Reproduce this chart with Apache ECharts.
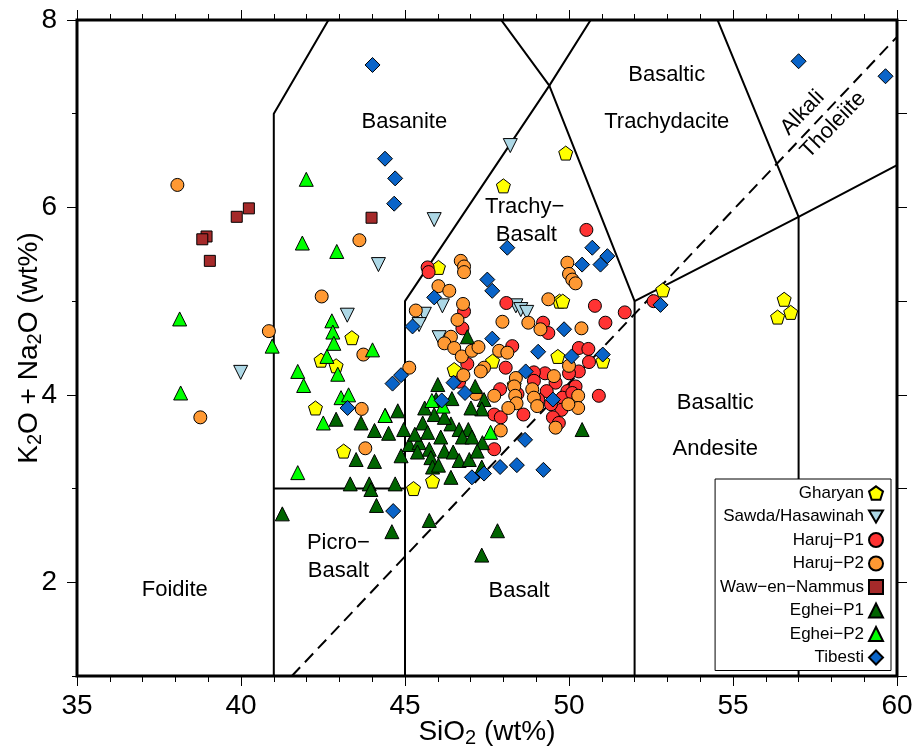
<!DOCTYPE html>
<html>
<head>
<meta charset="utf-8">
<script src="https://cdn.jsdelivr.net/npm/echarts@6/dist/echarts.min.js"></script>
<style>
  html, body { margin: 0; padding: 0; background: #fff; }
  #chart { width: 916px; height: 755px; }
</style>
</head>
<body>
<div id="chart"></div>
<script>
// axis ticks
const yLabelValues = [2, 4, 6, 8];
const yMinorValues = [1, 3, 5, 7];

// sample groups, [SiO2, K2O + Na2O]
const gharyan = [[49.90,6.58],[48.00,6.23],[46.02,5.36],[49.71,5.00],[49.81,5.00],[43.38,4.61],[42.44,4.37],[42.90,4.31],[42.27,3.86],[43.13,3.40],[46.50,4.27],[47.67,4.36],[48.33,4.11],[49.66,4.41],[51.03,4.36],[45.84,3.08],[45.26,3.00],[52.86,5.12],[56.56,5.02],[56.76,4.88],[56.36,4.83]];
const sawda = [[48.21,6.66],[45.89,5.87],[44.19,5.39],[43.24,4.85],[39.99,4.24],[46.14,4.95],[45.59,4.86],[45.43,4.75],[46.04,4.61],[48.38,4.95],[48.53,4.91],[48.71,4.88]];
const harujP1 = [[50.53,5.76],[45.69,5.36],[45.72,5.31],[46.80,4.89],[48.09,4.98],[50.79,4.95],[51.70,4.88],[49.21,4.77],[51.11,4.77],[46.75,4.71],[52.58,5.00],[50.91,3.99],[49.37,4.66],[46.90,4.33],[48.27,4.52],[48.07,4.29],[50.30,4.50],[50.59,4.49],[50.61,4.35],[50.30,4.25],[50.00,4.23],[49.27,4.23],[48.93,4.24],[48.93,4.15],[49.59,4.13],[49.32,4.04],[49.95,4.04],[50.20,4.09],[46.65,4.14],[47.90,4.06],[48.43,4.01],[49.06,3.95],[49.80,3.97],[49.77,3.84],[49.51,3.76],[49.69,3.70],[47.72,3.79],[47.92,3.76],[48.61,3.79],[47.72,3.42],[50.10,4.02],[49.45,3.90]];
const harujP2 = [[38.06,6.24],[40.85,4.68],[38.76,3.76],[43.61,5.65],[42.46,5.05],[43.73,4.43],[43.68,3.85],[43.79,3.43],[45.13,4.29],[45.33,4.90],[46.70,5.43],[46.80,5.37],[46.80,5.31],[46.02,5.16],[46.35,5.11],[49.95,5.41],[50.00,5.29],[50.10,5.23],[50.20,5.19],[49.37,5.02],[46.77,4.97],[47.97,4.78],[48.76,4.77],[50.38,4.71],[46.60,4.80],[49.13,4.70],[46.40,4.62],[46.20,4.55],[46.50,4.50],[46.73,4.41],[47.04,4.47],[47.24,4.51],[47.87,4.47],[48.12,4.45],[47.41,4.29],[47.31,4.25],[46.78,4.21],[47.16,4.01],[47.72,3.99],[48.38,4.18],[48.33,4.09],[48.36,3.99],[48.40,3.91],[48.88,4.06],[48.93,3.97],[49.03,3.88],[49.54,4.20],[50.00,4.31],[50.28,3.99],[50.28,3.86],[49.98,3.90],[49.59,3.65],[47.92,3.62],[48.15,3.86]];
const wawEnNammus = [[40.24,5.99],[39.87,5.90],[38.95,5.69],[38.82,5.66],[39.05,5.43],[43.98,5.89]];
const egheiP1 = [[46.00,4.11],[46.90,4.62],[47.14,4.09],[47.41,3.95],[47.34,3.85],[47.01,3.86],[46.43,3.96],[44.78,3.83],[44.40,3.78],[43.66,3.70],[42.90,3.74],[44.07,3.62],[44.50,3.59],[44.96,3.63],[45.54,3.70],[45.89,3.79],[46.40,3.69],[46.65,3.63],[46.93,3.63],[45.69,3.60],[45.13,3.47],[45.43,3.49],[46.09,3.55],[46.75,3.55],[47.04,3.55],[47.36,3.49],[44.88,3.35],[45.38,3.39],[45.74,3.42],[46.20,3.40],[46.47,3.39],[46.65,3.30],[46.96,3.31],[45.79,3.33],[45.84,3.23],[46.40,3.12],[44.07,3.29],[43.51,3.31],[43.33,3.05],[43.91,3.05],[44.70,3.05],[43.96,2.99],[44.13,2.82],[47.34,3.23],[50.40,3.63],[41.26,2.73],[44.60,2.54],[45.74,2.66],[47.82,2.55],[47.34,2.29],[45.95,3.95],[45.60,3.86],[46.20,3.76],[45.30,3.58],[46.02,3.25],[47.20,3.40]];
const egheiP2 = [[41.99,6.30],[41.87,5.62],[42.92,5.53],[38.13,4.81],[38.16,4.02],[40.95,4.52],[41.73,4.25],[41.91,4.10],[41.73,3.17],[42.77,4.79],[42.80,4.67],[42.83,4.55],[44.01,4.48],[42.62,4.41],[42.95,4.22],[43.05,3.97],[43.28,4.00],[42.51,3.70],[44.39,3.78],[45.82,3.94],[46.16,3.88],[47.61,3.60]];
const tibesti = [[44.01,7.52],[57.00,7.56],[59.65,7.40],[44.39,6.52],[44.70,6.31],[44.67,6.04],[48.12,5.57],[50.71,5.57],[50.40,5.39],[50.96,5.39],[51.17,5.48],[47.51,5.23],[47.66,5.11],[45.89,5.04],[45.23,4.73],[52.79,4.96],[51.03,4.43],[47.66,4.60],[49.06,4.46],[49.85,4.70],[50.08,4.41],[44.88,4.21],[44.62,4.12],[46.48,4.13],[46.83,4.02],[46.12,3.94],[48.68,4.25],[49.51,3.95],[43.25,3.86],[48.66,3.52],[47.90,3.23],[48.41,3.25],[49.22,3.20],[47.41,3.16],[47.04,3.12],[44.64,2.76]];

// TAS field boundaries (Le Bas et al. 1986) and alkaline/tholeiitic divide
const tasBoundaries = [
  [[41,1],[41,7],[45,9.4]],
  [[41,3],[45,3]],
  [[45,1],[45,5],[49.4,7.3],[53,9.3]],
  [[45,9.4],[49.4,7.3],[52,5]],
  [[52,1],[52,5],[57,5.9],[63,7]],
  [[57,1],[57,5.9]],
  [[48.4,11.5],[53,9.3],[57,5.9]]
];
const alkaliDivide = [[41.55,1],[60,7.82]];

// field names: [SiO2, total alkali, text, rotation]
const fieldLabels = [
  [44.98,6.91,'Basanite',0],
  [48.65,6.01,'Trachy\u2212',0],
  [48.70,5.71,'Basalt',0],
  [52.98,7.41,'Basaltic',0],
  [52.98,6.91,'Trachydacite',0],
  [57.12,7.01,'Alkali',46],
  [58.06,6.88,'Tholeiite',46],
  [54.46,3.91,'Basaltic',0],
  [54.46,3.42,'Andesite',0],
  [37.98,1.92,'Foidite',0],
  [42.97,2.42,'Picro\u2212',0],
  [42.97,2.12,'Basalt',0],
  [48.48,1.91,'Basalt',0]
];

const groups = [
  { name: 'Gharyan', data: gharyan, color: '#ffff00', symbol: 'path://M0,-10 L9.51,-3.09 L5.88,8.09 L-5.88,8.09 L-9.51,-3.09 Z', size: 14 },
  { name: 'Sawda/Hasawinah', data: sawda, color: '#add8e6', symbol: 'path://M-10,-8 L10,-8 L0,9 Z', size: 14 },
  { name: 'Haruj\u2212P1', data: harujP1, color: '#ff3333', symbol: 'circle', size: 13 },
  { name: 'Haruj\u2212P2', data: harujP2, color: '#ff9933', symbol: 'circle', size: 13 },
  { name: 'Waw\u2212en\u2212Nammus', data: wawEnNammus, color: '#a52a2a', symbol: 'rect', size: 11 },
  { name: 'Eghei\u2212P1', data: egheiP1, color: '#006400', symbol: 'triangle', size: 14 },
  { name: 'Eghei\u2212P2', data: egheiP2, color: '#00ff00', symbol: 'triangle', size: 14 },
  { name: 'Tibesti', data: tibesti, color: '#0a64c8', symbol: 'diamond', size: 15 }
];

const FONT = 'Liberation Sans, Arial, Helvetica, sans-serif';
const chart = echarts.init(document.getElementById('chart'), null, { renderer: 'canvas' });

const nameRich = {
  n: { fontSize: 28, fontFamily: FONT, color: '#000' },
  s: { fontSize: 20, fontFamily: FONT, color: '#000', padding: [12, 0, 0, 0] }
};

const boundarySeries = tasBoundaries.map((pts) => ({
  type: 'line',
  data: pts,
  symbol: 'none',
  silent: true,
  clip: true,
  z: 1,
  lineStyle: { color: '#000', width: 2 }
}));

const option = {
  animation: false,
  backgroundColor: '#fff',
  textStyle: { fontFamily: FONT },
  grid: {
    left: 77, right: 19, top: 20, bottom: 79,
    show: true, borderColor: '#000', borderWidth: 3,
    outerBoundsMode: 'none'
  },
  legend: {
    orient: 'vertical',
    align: 'right',
    right: 25,
    top: 479,
    data: groups.map((g) => g.name),
    itemWidth: 14,
    itemHeight: 14,
    itemGap: 5.5,
    padding: [5, 7, 4, 5],
    borderColor: '#000',
    borderWidth: 1,
    backgroundColor: '#fff',
    textStyle: { fontSize: 17, fontFamily: FONT, color: '#000', lineHeight: 18 },
    selectedMode: false
  },
  xAxis: [
    {
      type: 'value', position: 'bottom', min: 35, max: 60, interval: 5,
      name: '{n|SiO}{s|2}{n| (wt%)}', nameLocation: 'middle', nameGap: 40,
      nameMoveOverlap: false,
      nameTextStyle: { rich: nameRich },
      axisLine: { show: false },
      axisTick: { show: true, length: 10, lineStyle: { color: '#000', width: 1 } },
      minorTick: { show: true, splitNumber: 5, length: 6, lineStyle: { color: '#000', width: 1 } },
      axisLabel: { fontSize: 28, color: '#000', fontFamily: FONT, margin: 16 },
      splitLine: { show: false }
    },
    {
      type: 'value', position: 'top', min: 35, max: 60, interval: 5,
      axisLine: { show: false },
      axisTick: { show: true, length: 10, lineStyle: { color: '#000', width: 1 } },
      minorTick: { show: true, splitNumber: 5, length: 6, lineStyle: { color: '#000', width: 1 } },
      axisLabel: { show: false },
      splitLine: { show: false }
    }
  ],
  yAxis: [
    {
      type: 'value', position: 'left', min: 1, max: 8, interval: 1,
      name: '{n|K}{s|2}{n|O + Na}{s|2}{n|O (wt%)}', nameLocation: 'middle', nameGap: 32,
      nameMoveOverlap: false,
      nameTextStyle: { rich: nameRich },
      axisLine: { show: false },
      axisTick: { show: true, length: 10, customValues: yLabelValues, lineStyle: { color: '#000', width: 1 } },
      axisLabel: { fontSize: 28, color: '#000', fontFamily: FONT, margin: 20, customValues: yLabelValues },
      splitLine: { show: false }
    },
    {
      type: 'value', position: 'left', min: 1, max: 8, interval: 1,
      axisLine: { show: false },
      axisTick: { show: true, length: 5, customValues: yMinorValues, lineStyle: { color: '#000', width: 1 } },
      axisLabel: { show: false },
      splitLine: { show: false }
    },
    {
      type: 'value', position: 'right', min: 1, max: 8, interval: 1,
      axisLine: { show: false },
      axisTick: { show: true, length: 10, lineStyle: { color: '#000', width: 1 } },
      axisLabel: { show: false },
      splitLine: { show: false }
    }
  ],
  series: [
    ...boundarySeries,
    {
      type: 'line',
      data: alkaliDivide,
      symbol: 'none',
      silent: true,
      clip: true,
      z: 1,
      lineStyle: { color: '#000', width: 2, type: [12, 7] }
    },
    {
      type: 'scatter',
      silent: true,
      z: 1,
      symbolSize: 1,
      itemStyle: { color: 'rgba(0,0,0,0)', opacity: 1 },
      data: fieldLabels.map((f) => ({
        value: [f[0], f[1]],
        name: f[2],
        label: { rotate: f[3] }
      })),
      label: {
        show: true,
        position: 'inside',
        formatter: '{b}',
        fontSize: 22,
        fontFamily: FONT,
        color: '#000',
        opacity: 1,
        textBorderWidth: 0
      }
    },
    ...groups.map((g) => ({
      type: 'scatter',
      name: g.name,
      data: g.data,
      symbol: g.symbol,
      symbolSize: g.size,
      z: 3,
      itemStyle: { color: g.color, borderColor: '#000', borderWidth: 1, opacity: 1 }
    }))
  ]
};

chart.setOption(option);
</script>
</body>
</html>
